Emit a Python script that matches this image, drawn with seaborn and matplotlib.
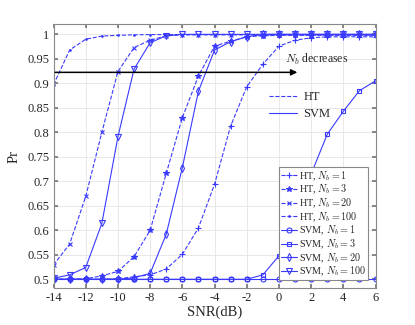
import numpy as np
import pandas as pd
import matplotlib
matplotlib.use("Agg")
import matplotlib.pyplot as plt
from matplotlib.lines import Line2D
import seaborn as sns

snr = list(range(-14, 7))

ht_1 = [0.5, 0.5, 0.5, 0.5, 0.501, 0.505, 0.509, 0.521, 0.551, 0.605, 0.694,
        0.813, 0.893, 0.939, 0.976, 0.988, 0.993, 0.995, 0.995, 0.995, 0.995]
ht_3 = [0.5, 0.5, 0.501, 0.507, 0.516, 0.546, 0.600, 0.716, 0.830, 0.915, 0.976,
        0.986, 0.995, 0.997, 0.998, 0.998, 0.998, 0.998, 0.998, 0.998, 0.998]
ht_20 = [0.529, 0.572, 0.669, 0.800, 0.924, 0.973, 0.988, 0.997, 0.999, 0.999, 0.999,
         0.999, 0.999, 0.999, 0.999, 0.999, 0.999, 0.999, 0.999, 0.999, 0.998]
ht_100 = [0.897, 0.968, 0.990, 0.9965, 0.998, 0.999, 0.9995, 0.9995, 0.9995, 0.9995, 0.9995,
          0.9995, 0.9995, 0.9995, 0.9995, 0.9995, 0.9995, 0.9995, 0.9995, 0.9995, 0.9995]
svm_1 = [0.5] * 21
svm_3 = [0.5, 0.5, 0.5, 0.5, 0.5, 0.5, 0.5, 0.5, 0.5, 0.5, 0.5,
         0.5, 0.5, 0.509, 0.548, 0.63, 0.715, 0.796, 0.843, 0.885, 0.905]
svm_20 = [0.5, 0.5, 0.5, 0.5, 0.5, 0.503, 0.512, 0.592, 0.728, 0.884, 0.968,
          0.985, 0.995, 1.0, 1.0, 1.0, 1.0, 1.0, 1.0, 1.0, 1.0]
svm_100 = [0.502, 0.509, 0.524, 0.614, 0.791, 0.929, 0.983, 0.997, 1.0, 1.0, 1.0,
           1.0, 1.0, 1.0, 1.0, 1.0, 1.0, 1.0, 1.0, 1.0, 1.0]

labels = [r"HT, $N_b=1$", r"HT, $N_b=3$", r"HT, $N_b=20$", r"HT, $N_b=100$",
          r"SVM, $N_b=1$", r"SVM, $N_b=3$", r"SVM, $N_b=20$", r"SVM, $N_b=100$"]
series = [ht_1, ht_3, ht_20, ht_100, svm_1, svm_3, svm_20, svm_100]
markers = ["+", "*", "x", ".", "o", "s", "d", "v"]
styles = ["--"] * 4 + ["-"] * 4
msizes = [4, 3.8, 3.2, 2.2, 3.6, 3.2, 3.6, 3.8]

sns.set_theme(style="whitegrid")
plt.rcParams["font.family"] = ["Liberation Serif", "DejaVu Serif"]
plt.rcParams["mathtext.fontset"] = "cm"
plt.rcParams["axes.unicode_minus"] = False

color = "#3a3aff"

fig = plt.figure(figsize=(4.15, 3.25), dpi=100)
ax = fig.add_axes([0.129, 0.113, 0.776, 0.813])

handles = []
for vals, lab, mk, ls, ms in zip(series, labels, markers, styles, msizes):
    df = pd.DataFrame({"SNR": snr, "Pr": vals})
    filled = mk in ("*", ".", "+", "x")
    sns.lineplot(data=df, x="SNR", y="Pr", ax=ax, color=color, linestyle=ls,
                 linewidth=0.8, marker=mk, markersize=ms,
                 markerfacecolor=color if filled else "none",
                 markeredgecolor=color, markeredgewidth=0.8)
    handles.append(Line2D([], [], color=color, linestyle=ls, linewidth=0.8,
                          marker=mk, markersize=ms,
                          markerfacecolor=color if filled else "none",
                          markeredgecolor=color, markeredgewidth=0.8))

ax.set_xlim(-14, 6)
ax.set_ylim(0.4816, 1.021)
ax.set_xticks(range(-14, 7, 2))
ax.set_xticklabels([str(v) for v in range(-14, 7, 2)])
yt = [0.5, 0.55, 0.6, 0.65, 0.7, 0.75, 0.8, 0.85, 0.9, 0.95, 1.0]
ax.set_yticks(yt)
ax.set_yticklabels([("%g" % v) for v in yt])
ax.set_xlabel("SNR(dB)", fontsize=10.5, labelpad=1)
ax.set_ylabel("Pr", fontsize=10.5, labelpad=5)
ax.tick_params(labelsize=9, direction="in", length=3, top=True, right=True,
               bottom=True, left=True, color="#777777", pad=3)
ax.grid(True, color="#e4e4e4", linewidth=0.6)
for s in ax.spines.values():
    s.set_color("#888888")
    s.set_linewidth(0.8)

ax.annotate("", xy=(1.14, 0.9224), xytext=(-13.9, 0.9224),
            arrowprops=dict(arrowstyle="-|>", color="black", lw=1.1,
                            mutation_scale=9, shrinkA=0, shrinkB=0))
ax.text(0.38, 0.949, r"$N_b$ decreases", fontsize=8.5, va="center", ha="left")

leg1 = ax.legend(handles, labels, loc="upper left", bbox_to_anchor=(0.701, 0.458),
                 borderaxespad=0, fontsize=7.3, handlelength=1.5, handletextpad=0.2,
                 labelspacing=0.02, borderpad=0.2, frameon=True, fancybox=False,
                 framealpha=1, edgecolor="#888888")
leg1.get_frame().set_linewidth(0.8)
ax.add_artist(leg1)

h2 = [Line2D([], [], color=color, linestyle="--", linewidth=0.8),
      Line2D([], [], color=color, linestyle="-", linewidth=0.8)]
ax.legend(h2, ["HT", "SVM"], loc="upper left", bbox_to_anchor=(0.655, 0.765),
          borderaxespad=0, fontsize=9, handlelength=2.2, handletextpad=0.5,
          labelspacing=0.4, frameon=False)

fig.savefig("out.png", dpi=100)
